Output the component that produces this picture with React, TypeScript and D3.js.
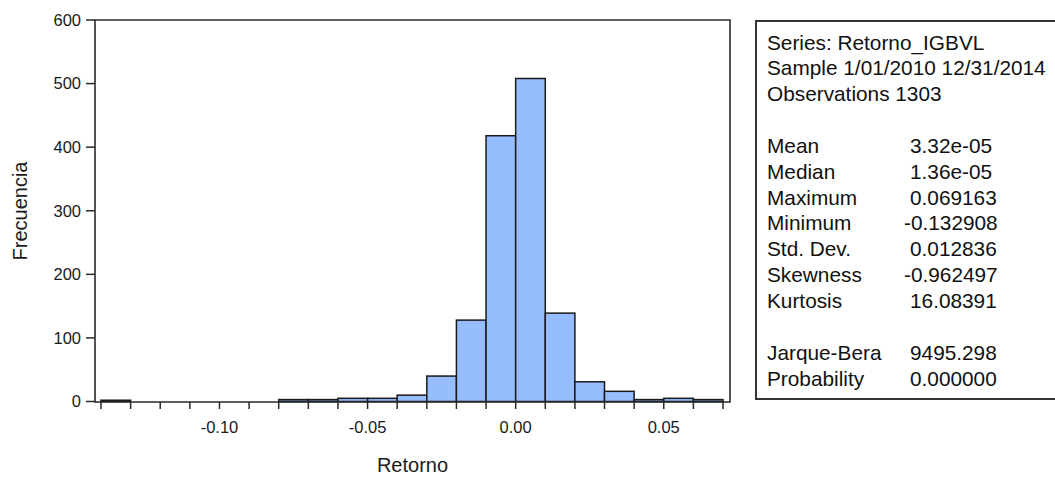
import React from 'react';
import * as d3 from 'd3';

// histogram bins: left edge of each bin, width 0.01
const binStarts = [-0.14, -0.13, -0.12, -0.11, -0.10, -0.09, -0.08, -0.07, -0.06, -0.05, -0.04,
  -0.03, -0.02, -0.01, 0.00, 0.01, 0.02, 0.03, 0.04, 0.05, 0.06];
const binCounts = [2, 0, 0, 0, 0, 0, 3, 3, 5, 5, 10, 40, 128, 418, 508, 139, 31, 16, 3, 5, 3];
const binWidth = 0.01;

const xLabelTicks = [-0.10, -0.05, 0.00, 0.05];
const yTicks = [0, 100, 200, 300, 400, 500, 600];

const statHeader = ['Series: Retorno_IGBVL', 'Sample 1/01/2010 12/31/2014', 'Observations 1303'];
const statNames = ['Mean', 'Median', 'Maximum', 'Minimum', 'Std. Dev.', 'Skewness', 'Kurtosis'];
const statValues = ['3.32e-05', '1.36e-05', '0.069163', '-0.132908', '0.012836', '-0.962497', '16.08391'];
const testNames = ['Jarque-Bera', 'Probability'];
const testValues = ['9495.298', '0.000000'];

const W = 1055;
const H = 477;
const font = 'Arial, "Liberation Sans", sans-serif';

export default function App() {
  const x = d3.scaleLinear().domain([-0.14, 0.07]).range([101, 723]);
  const y = d3.scaleLinear().domain([0, 600]).range([401.5, 20]);
  const frame = { left: 95, right: 730, top: 20, bottom: 402 };

  const edges = d3.range(binStarts.length + 1).map(i => -0.14 + i * binWidth);

  const lineH = 25.85;
  const y0 = 49.5;
  const labelX = 767;
  const valueX = 910;
  const minusW = 6;
  const statSize = 20.8;

  const statRows: { name: string; value?: string; line: number }[] = [];
  statHeader.forEach((t, i) => statRows.push({ name: t, line: i }));
  statNames.forEach((t, i) => statRows.push({ name: t, value: statValues[i], line: 4 + i }));
  testNames.forEach((t, i) => statRows.push({ name: t, value: testValues[i], line: 12 + i }));

  return (
    <svg width={W} height={H} style={{ position: 'absolute', left: 0, top: 0, background: '#fff' }}
      fontFamily={font}>
      <rect x={0} y={0} width={W} height={H} fill="#fff" />

      {/* bars */}
      {binStarts.map((s, i) => binCounts[i] > 0 && (
        <rect key={i} x={x(s)} y={y(binCounts[i])}
          width={x(s + binWidth) - x(s)} height={y(0) - y(binCounts[i])}
          fill="#96BEFF" stroke="#1a1a1a" strokeWidth={1.5} />
      ))}

      {/* frame */}
      <path d={`M${frame.left},${frame.top}H${frame.right}V${frame.bottom}H${frame.left}Z`}
        fill="none" stroke="#2a2a2a" strokeWidth={1.6} />

      {/* y ticks */}
      {yTicks.map(t => (
        <g key={t}>
          <line x1={86} x2={frame.left} y1={y(t)} y2={y(t)} stroke="#2a2a2a" strokeWidth={1.5} />
          <text x={81} y={y(t)} dy="0.35em" textAnchor="end" fontSize={16.5} fill="#1a1a1a">{t}</text>
        </g>
      ))}

      {/* x ticks */}
      {edges.map((e, i) => (
        <line key={i} x1={x(e)} x2={x(e)} y1={frame.bottom} y2={409} stroke="#2a2a2a" strokeWidth={1.5} />
      ))}
      {xLabelTicks.map(t => (
        <text key={t} x={x(t)} y={433} textAnchor="middle" fontSize={16.5} fill="#1a1a1a">
          {d3.format('.2f')(t).replace('−', '-')}
        </text>
      ))}

      {/* axis titles */}
      <text x={412.5} y={472} textAnchor="middle" fontSize={20} fill="#1a1a1a">Retorno</text>
      <text transform="translate(27,211) rotate(-90)" textAnchor="middle" fontSize={20} fill="#1a1a1a">Frecuencia</text>

      {/* stats box */}
      <rect x={756} y={21} width={320} height={378} fill="none" stroke="#333" strokeWidth={2} />
      {statRows.map((r, i) => {
        const yy = y0 + r.line * lineH;
        const neg = r.value !== undefined && r.value.startsWith('-');
        return (
          <g key={i}>
            <text x={labelX} y={yy} fontSize={statSize} fill="#111">{r.name}</text>
            {r.value !== undefined && (
              <text x={neg ? valueX - minusW : valueX} y={yy} fontSize={statSize} fill="#111">{r.value}</text>
            )}
          </g>
        );
      })}
    </svg>
  );
}
